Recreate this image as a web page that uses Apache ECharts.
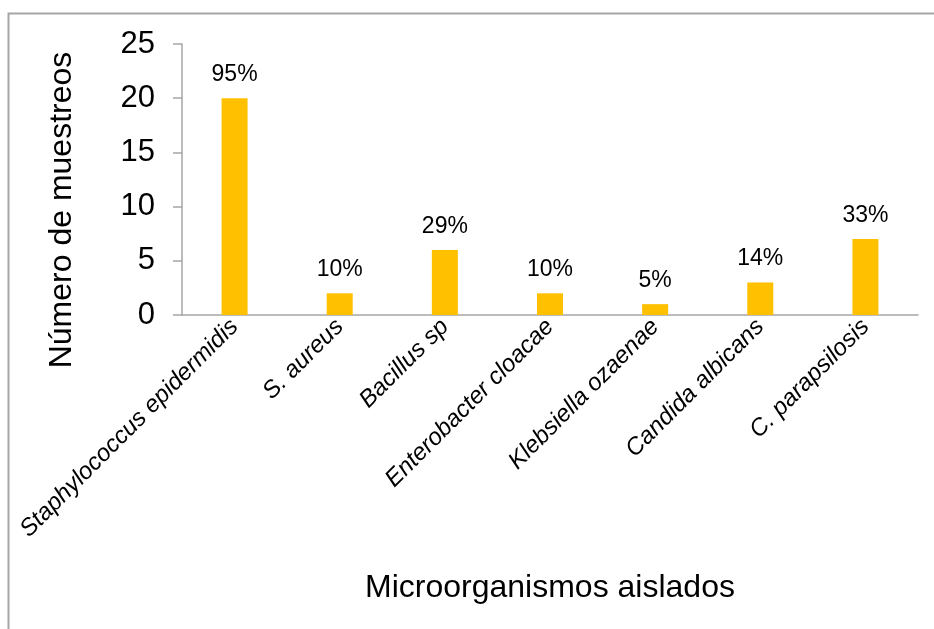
<!DOCTYPE html>
<html>
<head>
<meta charset="utf-8">
<script src="https://cdn.jsdelivr.net/npm/echarts@6/dist/echarts.min.js"></script>
<style>
  html, body { margin: 0; padding: 0; background: #fff; }
  #main { width: 934px; height: 629px; }
</style>
</head>
<body>
<div id="main"></div>
<script>
var categories = ['Staphylococcus epidermidis', 'S. aureus', 'Bacillus sp', 'Enterobacter cloacae',
                  'Klebsiella ozaenae', 'Candida albicans', 'C. parapsilosis'];
var muestreos = [20, 2, 6, 2, 1, 3, 7];
var porcentajes = ['95%', '10%', '29%', '10%', '5%', '14%', '33%'];

var myChart = echarts.init(document.getElementById('main'));

myChart.setOption({
    animation: false,
    textStyle: { fontFamily: 'Liberation Sans' },
    grid: { left: 182, right: 16, top: 44, bottom: 314, containLabel: false },
    // marco del gráfico
    graphic: [
        {
            type: 'rect',
            shape: { x: 8.5, y: 13.5, width: 1000, height: 1000 },
            style: { fill: 'none', stroke: '#a6a6a6', lineWidth: 2 },
            silent: true
        },
        {
            type: 'text',
            x: 62, y: 210,
            rotation: Math.PI / 2,
            style: {
                text: 'Número de muestreos',
                font: '32px Liberation Sans',
                fill: '#000',
                align: 'center',
                verticalAlign: 'middle'
            }
        }
    ],
    xAxis: {
        type: 'category',
        data: categories,
        name: 'Microorganismos aislados',
        nameLocation: 'middle',
        nameGap: 257,
        nameTextStyle: { fontSize: 32, color: '#000' },
        axisLine: { lineStyle: { color: '#a6a6a6', width: 1.5 } },
        axisTick: { show: false },
        axisLabel: {
            rotate: 45,
            fontSize: 24,
            fontStyle: 'italic',
            color: '#000',
            margin: 8,
            interval: 0
        }
    },
    yAxis: {
        type: 'value',
        min: 0,
        max: 25,
        interval: 5,
        axisLine: { show: true, lineStyle: { color: '#a6a6a6', width: 1.5 } },
        axisTick: { show: true, length: 9, lineStyle: { color: '#a6a6a6', width: 1.5 } },
        splitLine: { show: false },
        axisLabel: { fontSize: 31, color: '#000', margin: 27 }
    },
    series: [{
        name: 'muestreos',
        type: 'bar',
        data: muestreos,
        barWidth: 26,
        itemStyle: { color: '#FFC000' },
        label: {
            show: true,
            position: 'top',
            distance: 12,
            fontSize: 23,
            color: '#000',
            formatter: function (p) { return porcentajes[p.dataIndex]; }
        }
    }]
});
</script>
</body>
</html>
